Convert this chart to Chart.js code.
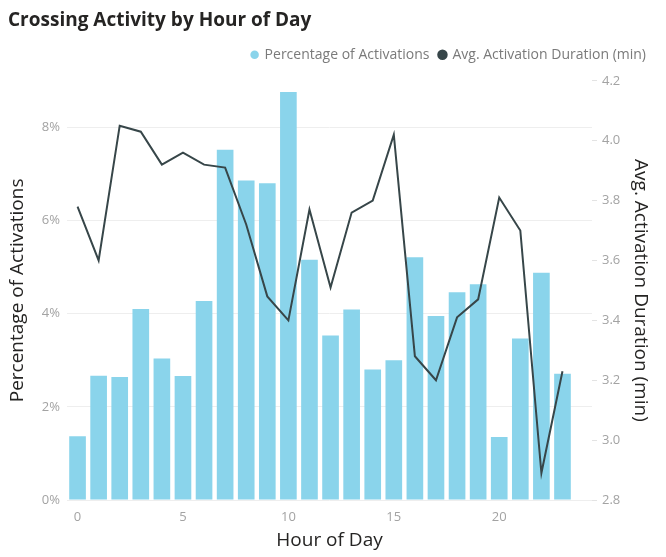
<!DOCTYPE html>
<html>
<head>
<meta charset="utf-8">
<script src="https://cdn.jsdelivr.net/npm/chart.js@4/dist/chart.umd.min.js"></script>
<style>
  html, body { margin: 0; padding: 0; background: #ffffff; }
  #c { display: block; }
</style>
</head>
<body>
<canvas id="c" width="666" height="557"></canvas>
<script>
// Hour of day (x categories)
const hourOfDay = [0, 1, 2, 3, 4, 5, 6, 7, 8, 9, 10, 11, 12, 13, 14, 15, 16, 17, 18, 19, 20, 21, 22, 23];

// Share of all crossing activations in each hour (%)
const pctActivations = [1.37, 2.67, 2.64, 4.10, 3.04, 2.66, 4.27, 7.52, 6.86, 6.80, 8.76, 5.16,
                        3.53, 4.09, 2.80, 3.00, 5.21, 3.95, 4.46, 4.63, 1.35, 3.47, 4.88, 2.71];

// Average activation duration in each hour (minutes)
const avgDuration = [3.78, 3.60, 4.05, 4.03, 3.92, 3.96, 3.92, 3.91, 3.72, 3.48, 3.40, 3.77,
                     3.51, 3.76, 3.80, 4.02, 3.28, 3.20, 3.41, 3.47, 3.81, 3.70, 2.89, 3.23];

// Tick labels
const hourTicks = [0, 5, 10, 15, 20];
const pctTicks = [0, 2, 4, 6, 8];
const durTicks = [2.8, 3.0, 3.2, 3.4, 3.6, 3.8, 4.0, 4.2];

const FONT = "'Open Sans', 'Noto Sans', sans-serif";
const TICK_COLOR = '#a3a3a3';
const TITLE_COLOR = '#252423';
const BAR_COLOR = '#8AD4EB';
const LINE_COLOR = '#374649';

const toTicks = arr => scale => { scale.ticks = arr.map(v => ({ value: v })); };
const axisTitleFont = { family: FONT, size: 19, lineHeight: 1 };
const tickFont = { family: FONT, size: 13 };

new Chart(document.getElementById('c'), {
  type: 'bar',
  data: {
    datasets: [
      {
        type: 'bar',
        label: 'Percentage of Activations',
        data: hourOfDay.map((h, i) => ({ x: h, y: pctActivations[i] })),
        backgroundColor: BAR_COLOR,
        borderWidth: 0,
        categoryPercentage: 1,
        barPercentage: 0.79,
        yAxisID: 'y',
        order: 2
      },
      {
        type: 'line',
        label: 'Avg. Activation Duration (min)',
        data: hourOfDay.map((h, i) => ({ x: h, y: avgDuration[i] })),
        borderColor: LINE_COLOR,
        backgroundColor: LINE_COLOR,
        borderWidth: 2,
        pointRadius: 0,
        tension: 0,
        yAxisID: 'y1',
        order: 1
      }
    ]
  },
  options: {
    responsive: false,
    animation: false,
    devicePixelRatio: 1,
    layout: { padding: { left: 8, right: 10, top: 0, bottom: 0 } },
    plugins: {
      tooltip: { enabled: false },
      title: {
        display: true,
        text: 'Crossing Activity by Hour of Day',
        align: 'start',
        color: TITLE_COLOR,
        font: { family: FONT, size: 19, weight: 'bold', lineHeight: 1.2 },
        padding: { top: 9, bottom: 6 }
      },
      subtitle: {
        // empty band between the legend and the plot
        display: true,
        text: '',
        weight: 500,
        font: { size: 9, lineHeight: 1 },
        padding: 0
      },
      legend: {
        position: 'top',
        align: 'end',
        labels: {
          usePointStyle: true,
          pointStyle: 'circle',
          boxWidth: 6,
          boxHeight: 6,
          padding: 10,
          color: '#7a7a7a',
          font: { family: FONT, size: 14 },
          sort: (a, b) => a.datasetIndex - b.datasetIndex
        }
      }
    },
    scales: {
      x: {
        type: 'linear',
        position: 'bottom',
        min: -0.5,
        max: 24.4,
        offset: false,
        grid: { display: false },
        border: { display: false },
        afterBuildTicks: toTicks(hourTicks),
        afterFit: s => { s.height = 57; },
        ticks: { color: TICK_COLOR, font: tickFont, padding: 1 },
        title: {
          display: true,
          text: 'Hour of Day',
          color: TITLE_COLOR,
          font: axisTitleFont,
          padding: { top: 0, bottom: 7 }
        }
      },
      y: {
        position: 'left',
        min: 0,
        max: 9,
        grid: { color: '#eeeeee', lineWidth: 1, drawTicks: false },
        border: { display: false },
        afterBuildTicks: toTicks(pctTicks),
        afterFit: s => { s.width = 59; },
        ticks: {
          color: TICK_COLOR,
          font: tickFont,
          padding: 7,
          callback: v => v + '%'
        },
        title: {
          display: true,
          text: 'Percentage of Activations',
          color: TITLE_COLOR,
          font: axisTitleFont,
          padding: { top: 0, bottom: 0 }
        }
      },
      y1: {
        position: 'right',
        min: 2.8,
        max: 4.2,
        grid: { drawOnChartArea: false, drawTicks: true, tickLength: 5, color: '#e3e3e3' },
        border: { display: false },
        afterBuildTicks: toTicks(durTicks),
        afterFit: s => { s.width = 64; },
        ticks: {
          color: TICK_COLOR,
          font: tickFont,
          padding: 5,
          callback: v => v.toFixed(1)
        },
        title: {
          display: true,
          text: 'Avg. Activation Duration (min)',
          color: TITLE_COLOR,
          font: axisTitleFont,
          padding: { top: 6, bottom: 0 }
        }
      }
    }
  }
});
</script>
</body>
</html>
